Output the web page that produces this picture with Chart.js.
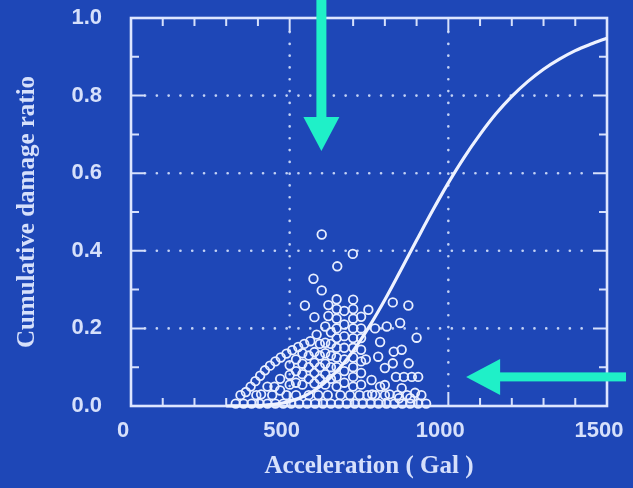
<!DOCTYPE html>
<html><head><meta charset="utf-8">
<script src="https://cdn.jsdelivr.net/npm/chart.js@4.4.0/dist/chart.umd.min.js"></script>
<style>html,body{margin:0;padding:0;background:#1e47b7;}#wrap{width:633px;height:488px;}</style>
</head><body><div id="wrap"><canvas id="c" width="633" height="488"></canvas></div>
<script>
// ---------- data ----------
const xTicks = [0, 500, 1000, 1500];
const yTicks = [0, 0.2, 0.4, 0.6, 0.8, 1.0];
const xGrid = [500, 1000];
const yGrid = [0.2, 0.4, 0.6, 0.8];

// observed buildings: peak ground acceleration (Gal) and cumulative damage ratio
const accel = [
 330,355,380,405,430,455,480,505,530,555,580,605,630,655,680,705,730,755,780,805,830,855,880,905,930,
 345,395,445,490,520,560,590,620,660,690,720,745,770,800,840,870,915,
 362,377,392,407,422,438,455,472,490,508,527,546,565,585,
 452,500,500,500,540,540,540,540,578,578,578,578,
 612,612,612,612,612,612,
 548,575,578,601,601,650,699,622,622,
 648,648,648,648,648,648,648,648,648,648,
 672,672,672,672,672,672,672,
 700,700,700,700,700,700,700,700,700,700,
 725,725,725,725,725,725,725,
 748,769,785,779,800,758,800,825,806,848,874,900,853,835,860,885,905,853,895,825,828,875,
 470,470,520,520,520,560,560,560,595,595,595,595,630,630,630,630,630,410,430,
 740,760,785,815,845,880
];
const ratio = [
 0.006,0.006,0.006,0.006,0.006,0.006,0.006,0.006,0.006,0.006,0.006,0.006,0.006,0.006,0.006,0.006,0.006,0.006,0.006,0.006,0.006,0.006,0.006,0.006,0.006,
 0.028,0.028,0.028,0.028,0.028,0.028,0.028,0.028,0.028,0.028,0.028,0.028,0.028,0.028,0.028,0.028,0.028,
 0.036,0.050,0.064,0.078,0.092,0.104,0.115,0.125,0.135,0.144,0.152,0.160,0.167,0.184,
 0.050,0.055,0.080,0.105,0.055,0.082,0.109,0.136,0.058,0.085,0.112,0.139,
 0.055,0.082,0.109,0.136,0.163,0.205,
 0.259,0.328,0.229,0.298,0.442,0.360,0.392,0.260,0.232,
 0.050,0.075,0.100,0.125,0.150,0.175,0.200,0.225,0.250,0.275,
 0.060,0.090,0.120,0.150,0.180,0.210,0.245,
 0.050,0.075,0.100,0.125,0.150,0.175,0.200,0.225,0.250,0.274,
 0.055,0.085,0.115,0.145,0.175,0.200,0.230,
 0.248,0.200,0.165,0.127,0.098,0.067,0.054,0.267,0.205,0.214,0.259,0.176,0.145,0.075,0.075,0.075,0.075,0.046,0.034,0.110,0.140,0.110,
 0.040,0.070,0.060,0.090,0.120,0.070,0.100,0.130,0.070,0.100,0.130,0.160,0.070,0.100,0.130,0.160,0.190,0.030,0.050,
 0.120,0.030,0.050,0.030,0.020,0.020
];

// fragility curve
const curveAccel = [300,350,400,450,500,550,600,650,700,750,800,850,900,950,1000,1050,1100,1150,1200,1250,1300,1350,1400,1450,1500];
const curveRatio = [0.000,0.0003,0.001,0.004,0.012,0.027,0.053,0.091,0.142,0.204,0.274,0.350,0.427,0.503,0.575,0.641,0.700,0.753,0.798,0.836,0.868,0.894,0.916,0.933,0.948];

// annotation arrows (data coordinates): [x, y] of tail and tip
const arrowDown = { tail: [600, 1.06], tip: [600, 0.657] };
const arrowLeft = { tail: [1560, 0.075], tip: [1056, 0.075] };

// ---------- styles ----------
const BG = '#1e47b7';
const FG = '#d6e0fb';
const GRID = '#c3d2f5';
const CYAN = '#1ff0c8';

const scatterPts = accel.map((a, i) => ({ x: a, y: ratio[i] }));
const curvePts = curveAccel.map((a, i) => ({ x: a, y: curveRatio[i] }));

const zeroPad = s => { s.paddingTop = 0; s.paddingBottom = 0; s.paddingLeft = 0; s.paddingRight = 0; };

const deco = {
  id: 'deco',
  beforeDraw(chart) {
    const c = chart.ctx;
    c.save(); c.fillStyle = BG; c.fillRect(0, 0, chart.width, chart.height); c.restore();
  },
  beforeDatasetsDraw(chart) {
    const c = chart.ctx, a = chart.chartArea, xs = chart.scales.x, ys = chart.scales.y;
    c.save();
    // dotted grid
    c.strokeStyle = GRID; c.lineWidth = 2.6; c.lineCap = 'round'; c.setLineDash([0.1, 11.7]);
    yGrid.forEach(v => { const py = ys.getPixelForValue(v); c.beginPath(); c.moveTo(a.left + 14, py); c.lineTo(a.right - 14, py); c.stroke(); });
    xGrid.forEach(v => { const px = xs.getPixelForValue(v); c.beginPath(); c.moveTo(px, a.top + 14); c.lineTo(px, a.bottom - 14); c.stroke(); });
    c.setLineDash([]); c.lineCap = 'butt';
    // inner ticks
    c.strokeStyle = FG; c.lineWidth = 2;
    for (let v = 100; v < 1500; v += 100) {
      const px = xs.getPixelForValue(v), L = (v % 500 === 0) ? 14 : 8;
      c.beginPath(); c.moveTo(px, a.top); c.lineTo(px, a.top + L); c.moveTo(px, a.bottom); c.lineTo(px, a.bottom - L); c.stroke();
    }
    for (let k = 1; k < 10; k++) {
      const v = k / 10, py = ys.getPixelForValue(v), L = (k % 2 === 0) ? 14 : 8;
      c.beginPath(); c.moveTo(a.left, py); c.lineTo(a.left + L, py); c.moveTo(a.right, py); c.lineTo(a.right - L, py); c.stroke();
    }
    // frame
    c.lineWidth = 2.6; c.strokeStyle = '#dde6ff';
    c.strokeRect(a.left, a.top, a.right - a.left, a.bottom - a.top);
    c.restore();
  },
  afterDraw(chart) {
    const c = chart.ctx, xs = chart.scales.x, ys = chart.scales.y;
    c.save(); c.fillStyle = CYAN;
    // down arrow
    let x0 = xs.getPixelForValue(arrowDown.tail[0]), y0 = ys.getPixelForValue(arrowDown.tail[1]);
    let y1 = ys.getPixelForValue(arrowDown.tip[1]);
    c.fillRect(x0 - 5, y0, 10, (y1 - 33) - y0 + 1);
    c.beginPath(); c.moveTo(x0 - 18, y1 - 34); c.lineTo(x0 + 18, y1 - 34); c.lineTo(x0, y1); c.closePath(); c.fill();
    // left arrow
    let tx = xs.getPixelForValue(arrowLeft.tip[0]), ty = ys.getPixelForValue(arrowLeft.tip[1]);
    let ex = xs.getPixelForValue(arrowLeft.tail[0]);
    c.fillRect(tx + 33, ty - 4.5, ex - (tx + 33), 9);
    c.beginPath(); c.moveTo(tx + 34, ty - 18); c.lineTo(tx + 34, ty + 18); c.lineTo(tx, ty); c.closePath(); c.fill();
    c.restore();
  }
};

new Chart(document.getElementById('c'), {
  data: {
    datasets: [
      { type: 'scatter', data: scatterPts, pointStyle: 'circle', pointRadius: 4.3, pointBorderWidth: 1.8,
        borderColor: '#e8eeff', backgroundColor: 'rgba(0,0,0,0)', clip: false, order: 2 },
      { type: 'line', data: curvePts, borderColor: '#eef2ff', borderWidth: 3.2, pointRadius: 0,
        cubicInterpolationMode: 'monotone', fill: false, clip: 3, order: 1 }
    ]
  },
  options: {
    responsive: false, animation: false, devicePixelRatio: 1,
    layout: { padding: { left: 0, right: 26, top: 18, bottom: 0 } },
    plugins: { legend: { display: false }, tooltip: { enabled: false } },
    scales: {
      x: {
        type: 'linear', min: 0, max: 1500,
        afterBuildTicks: s => { s.ticks = xTicks.map(v => ({ value: v })); },
        afterFit: s => { s.height = 82; zeroPad(s); },
        grid: { display: false, drawTicks: false }, border: { display: false },
        ticks: { color: FG, padding: 12, labelOffset: -8, font: { family: 'Liberation Sans', size: 22, weight: 'bold' }, callback: v => String(v) },
        title: { display: true, text: 'Acceleration ( Gal )', color: FG, padding: { top: 0, bottom: 6 },
                 font: { family: 'Liberation Serif', size: 25, weight: 'bold' } }
      },
      y: {
        type: 'linear', min: 0, max: 1,
        afterBuildTicks: s => { s.ticks = yTicks.map(v => ({ value: v })); },
        afterFit: s => { s.width = 131; zeroPad(s); },
        grid: { display: false, drawTicks: false }, border: { display: false },
        ticks: { color: FG, padding: 29, font: { family: 'Liberation Sans', size: 22, weight: 'bold' }, callback: v => Number(v).toFixed(1) },
        title: { display: true, text: 'Cumulative damage ratio', color: FG, padding: { top: 13, bottom: 0 },
                 font: { family: 'Liberation Serif', size: 25, weight: 'bold' } }
      }
    }
  },
  plugins: [deco]
});
</script></body></html>
